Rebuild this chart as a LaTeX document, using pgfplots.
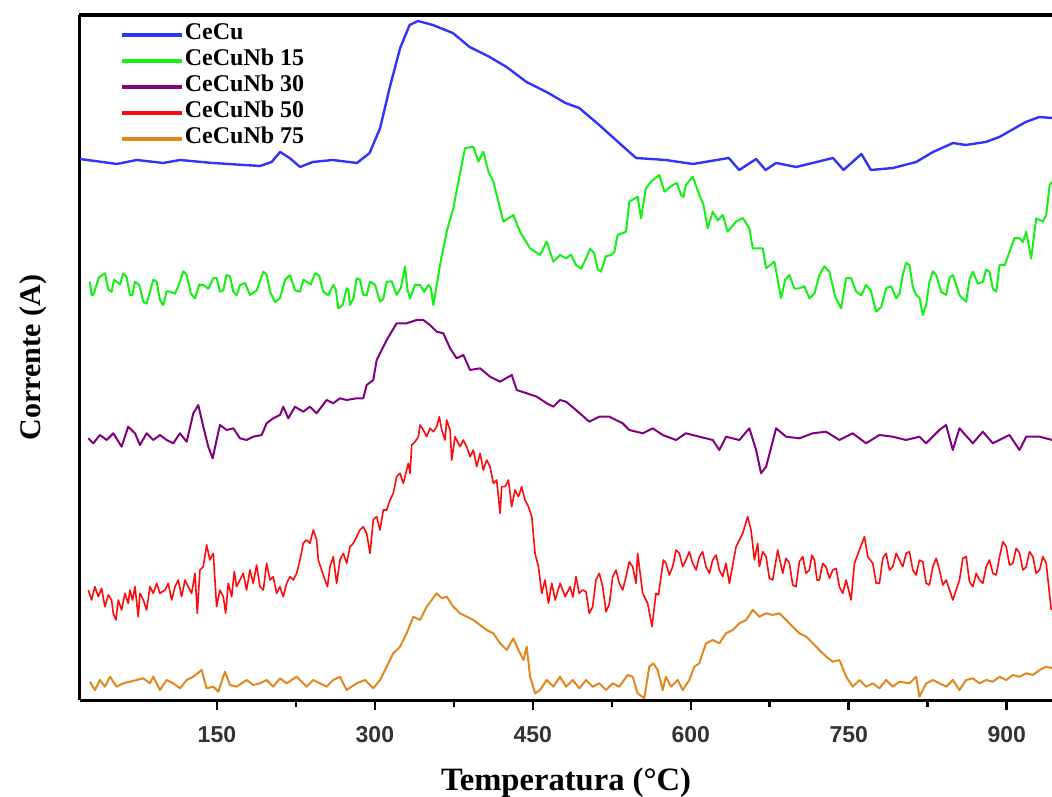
\documentclass[border=0pt]{standalone}
\usepackage{fontspec}
\setmainfont{Liberation Serif}
\setsansfont{Liberation Sans}
\usepackage{pgfplots}
\pgfplotsset{compat=1.18}
\definecolor{cblue}{RGB}{50,50,250}
\definecolor{cgreen}{RGB}{20,240,20}
\definecolor{cpurple}{RGB}{128,0,128}
\definecolor{cred}{RGB}{255,10,10}
\definecolor{corange}{RGB}{225,135,30}
\begin{document}
\begin{tikzpicture}
\begin{axis}[
  scale only axis,
  width=486pt, height=342.5pt,
  xmin=20, xmax=943, ymin=0, ymax=685,
  axis x line*=bottom, axis y line*=left,
  axis line style={line width=1.5pt},
  xtick={150,300,450,600,750,900},
  minor x tick num=1,
  tick align=outside,
  major tick length=5pt, minor tick length=3.5pt,
  every tick/.style={line width=1.3pt, black},
  ytick=\empty,
  /pgf/number format/assume math mode=true,
  xticklabel style={font=\fontsize{11.5}{13}\selectfont\sffamily\bfseries, text=black!80, yshift=-4.5pt},
  xlabel={Temperatura (°C)},
  ylabel={Corrente (A)},
  xlabel style={font=\fontsize{16.3}{18}\selectfont\bfseries, at={(axis description cs:0.5,0)}, anchor=base, yshift=-45pt},
  ylabel style={font=\fontsize{15}{17}\selectfont\bfseries, at={(axis description cs:0,0.5)}, anchor=center, yshift=23.5pt},
  legend style={at={(axis description cs:0.041,0.99)}, anchor=north west, draw=none, fill=none,
    inner sep=0pt, outer sep=0pt, row sep=0pt,
    font=\fontsize{12}{13}\selectfont\bfseries,
    nodes={inner sep=0pt, text height=9pt, text depth=4pt},
    /tikz/every odd column/.append style={column sep=0.5pt}},
  legend cell align=left,
  legend image code/.code={\draw[#1, line width=2pt] (0pt,0pt) -- (30pt,0pt);},
  every axis plot/.append style={line width=1pt, line join=round},
]
\addplot[cblue, line width=1.2pt] table {
20 541
55 536
74 540
99 537
115 540
146 537
191 534
202 538
210 548
219 542
229 533
241 538
260 540
283 537
295 547
305 572
314 612
324 652
333 675
341 679
355 675
374 667
390 653
409 643
425 633
444 618
463 608
481 597
494 592
513 575
532 557
548 542
576 540
602 536
636 542
646 530
662 541
671 530
681 537
700 533
735 542
745 530
762 546
771 530
792 532
814 538
830 548
849 557
861 555
880 558
893 563
918 578
931 583
943 582
};
\addlegendentry{CeCu}
\addplot[cgreen] table {
29.4 418.3
31.0 404.7
32.6 405
38.2 422.9
43.7 426.7
46.9 410.5
50 408.3
52.4 420.3
54.8 418.3
58.0 415.5
61.1 426.7
64.3 422.9
67.4 405
69.8 404.7
72.2 418.3
76.2 415.3
80.1 398.3
83.3 396.3
86.4 408.3
89.6 420.3
92.8 418.3
96.0 399.7
99.1 395
102.3 408.7
105.4 408.3
110.2 406.3
114.9 418.3
118.1 428.7
121.3 425
125.3 406.3
129.2 401.7
133.2 415.3
137.1 415
141.9 411.3
146.6 421.7
149.8 422
152.9 408.3
156.1 409.7
159.2 425
162.4 423.7
165.6 408.3
168.8 404.7
171.9 415
176.7 417
181.4 405
187.8 409.7
194.1 428.3
197.3 425.3
200.4 408.3
205.2 398
209.9 401.7
214.7 420.3
219.4 425
224.2 409.7
228.9 408.3
232.1 420.3
235.2 418.3
239.2 415.5
243.1 426.7
247.1 424.5
251 408.3
255.8 404.7
260.5 415
262.9 410.3
265.3 391.7
269.3 394.7
273.2 411.7
274.8 410.3
276.4 395
279.6 401.3
282.7 421.7
285.9 420.3
289 405
292.2 404.7
295.4 418.3
300.2 415.3
304.9 398.3
308.1 401.3
311.2 418.3
316 418.7
320.7 405
324.7 412.2
328.6 433.3
331 410
333.4 401.7
338.2 415.3
342.9 415
346.9 408
350.8 415
353.2 412
355.5 395
361.9 435
368.2 468.3
374.5 491.7
379.3 518.3
382.4 535
385.6 551.7
393.5 553.3
398.3 538.3
403 548.3
407.8 528.3
412.5 518.3
417.3 498.3
422 478.3
431.5 485
437.8 468.3
447.3 451.7
456.8 445
463.2 458.3
469.5 438.3
475.8 445
481.5 441.7
486.2 445.3
491 435
495.8 431.3
500.5 441.7
504.4 451.2
508.4 446.7
511.6 430.5
514.7 428.3
519.4 443.7
524.2 445
527.4 448
530.5 465
538.5 468.3
541.6 498.3
549.5 503.3
552.7 481.7
557.4 511.7
562.2 518.3
570.1 525
574.9 508.3
582.8 515
586.8 517
590.7 505
593 503
595.4 515
601.8 523.3
608.1 505
612 495.3
616 471.7
620.8 488.3
625.6 479.7
630.3 485
635 468.3
643 478.3
649.3 482
655.6 471.7
658.8 451.7
668.3 451.7
671.5 431.7
679.4 438.3
685.7 401.7
689.6 420.3
693.6 425
698.4 411.3
703.1 411.7
707.9 413.7
712.6 401.7
717.4 406.3
722.1 425
726.9 433.7
731.6 428.3
737.2 403
742.7 391.7
747.5 421.7
752.2 422
757 408.3
761.8 404.7
766.5 415
771.2 408.7
776 388.3
780.8 393
785.5 411.7
790.2 413.7
795 401.7
798.2 406.3
801.3 425
804.4 437
807.6 435
810.8 413
814 405
817.2 402
820.3 385
823.4 394.7
826.6 418.3
829.8 428.7
833 425
837.8 408
842.5 405
845.6 422
848.8 425
855.2 404.7
861.5 398.3
864.6 420.3
867.8 428.3
872.6 416.3
877.3 418.3
880.4 430.3
883.6 428.3
886.8 411.3
890 408.3
893.2 435
898 434.7
902.7 448.3
907.4 462
912.2 461.7
915.4 458
918.5 468.3
923.2 441.7
928 481.7
934.3 478.3
937.5 485
940.7 515
943.2 518.3
};
\addlegendentry{CeCuNb 15}
\addplot[cpurple] table {
27.9 261.7
32.6 256.7
38.9 265
45.3 260
51.6 266.7
59.5 253.3
65.8 273.3
72.2 266.7
76.9 255
83.3 266.7
89.6 260
95.9 265
102.3 260
108.6 256.7
114.9 266.7
121.3 258.3
127.6 286.7
132.3 295
137.1 273.3
141.8 253.3
146 241.7
149.7 260
152.9 275
159.2 270
165.6 271.7
171.9 261.7
178.2 260
184.5 263.3
192.5 265
197.2 276.7
203.5 281.7
209.9 285
213 293.3
217.8 281.7
224.1 293.3
232 288.3
238.3 293.3
244.7 286.7
254.2 300
260.5 296.7
266.8 301.7
273.2 300
282.7 301.7
289 301.7
292.2 315
298.5 320
301.7 340
311.2 360
320.7 376.7
330.2 376.7
339.7 380
346 380
352.3 375
358.7 368.3
365 366.7
371.4 351.7
377.7 341.7
384 345
390.4 330
399.9 331.7
409.4 323.3
418.9 318.3
430 325
434.7 310
444.2 306.7
453.7 303.3
463.2 296.7
469.5 293.3
475.8 300
481.5 298.3
491 290
503.6 278.3
513.1 283.3
522.6 283.3
535.3 276.7
541.6 270
554.3 266.7
563.8 271.7
573.3 265
585.9 260
595.4 266.7
608.1 263.3
620.8 260
627.1 250
633.5 263.3
646.1 260
655.6 271.7
662 250
666.7 226.7
671.5 233.3
681 271.7
690.5 263.3
703.1 261.7
715.8 266.7
728.4 268.3
741.1 260
753.7 266.7
766.4 256.7
779.1 265
791.7 263.3
804.4 260
817.1 263.3
823.4 256.7
836 270
842.4 275
848.8 250
855.1 271.7
867.8 256.7
877.3 268.3
886.8 256.7
902.6 265
912.1 250
918.5 263.3
931.2 263.3
943.2 260
};
\addlegendentry{CeCuNb 30}
\addplot[cred, line width=0.8pt] table {
27.9 110
31.0 100
34.2 113.3
37.4 103.3
40.5 111.7
43.7 93.3
46.9 105
50.0 100
51.6 86.7
54.1 80
56.4 100
59.5 90
62.7 106.7
65.8 96.7
67.4 110
69.9 100
72.2 113.3
75.3 83.3
76.9 106.7
80.1 100
83.3 90
86.4 113.3
89.6 106.7
92.8 116.7
95.9 106.7
100.7 110
103.8 116.7
107.0 100
110.2 113.3
113.3 120
116.5 103.3
119.7 120
122.8 113.3
126.0 106.7
129.2 126.7
131.4 86.7
133.9 130
137.1 133.3
140.2 155
143.4 140
146.6 146.7
149.7 93.3
152.9 110
156.1 103.3
158.3 86.7
160.8 116.7
164.0 103.3
166.5 128.3
168.7 113.3
171.9 120
175.0 126.7
178.2 110
181.4 130
184.5 116.7
187.7 135
190.9 113.3
194.1 110
197.2 136.7
200.4 120
203.5 123.3
206.7 106.7
209.9 113.3
213.0 103.3
216.2 116.7
219.4 123.3
222.5 120
225.7 126.7
228.9 140
232.0 156.7
235.2 160
238.4 156.7
241.5 170
244.7 160
246.3 140
249.4 130
252.6 120
255 113.3
257.4 133.3
260.5 143.3
263.7 116.7
266.9 140
270.0 146.7
273.2 136.7
276.4 153.3
279.5 156.7
282.7 163.3
285.8 170
289.0 173.3
292.2 166.7
295.4 146.7
298.5 180
301.7 183.3
304.9 170
308.0 190
311.2 190
314.4 200
317.5 206.7
320.7 223.3
323.9 226.7
327.0 216.7
331.8 236.7
333.4 226.7
335.0 255
338.1 258.3
341.3 263.3
342.9 275
346.0 270
349.2 263.3
352.3 271.7
355.5 268.3
358.7 273.3
361.2 283.3
363.5 270
366.6 260
368.2 280
371.4 270
373.0 240
376.1 263.3
380.9 253.3
384.0 260
387.2 253.3
390.4 243.3
393.5 250
396.7 233.3
399.9 246.7
403.0 230
406.2 240
409.4 233.3
412.5 216.7
415.7 220
418.9 186.7
420.4 213.3
423.6 213.3
426.8 220
429.9 193.3
433.1 210
436.3 203.3
439.4 213.3
442.6 200
445.8 193.3
449.0 183.3
452.1 146.7
455.3 133.3
458.5 106.7
461.6 120
464.8 96.7
468.0 116.7
471.2 100
475.9 116.7
480.7 103.3
485.4 113.3
488 103
491 123.3
494 106.7
497.3 110
500.5 108.3
503.6 86.7
506.8 93.3
509.9 120
513.1 126.7
516.3 113.3
519.5 88.3
522.6 95.8
525.8 123.3
529 130
532.1 116.7
535.3 110
538.5 123.3
541.6 138.3
544.8 133.3
548 116.7
549.5 146.7
554.3 106.7
559 96.7
563.2 73.3
566.9 106.7
569.3 105
571.7 123.3
574 140
576.4 136.7
579.6 125
582.8 133.3
586 150
589.1 146.7
592.3 133.3
595.4 140
598.6 148.3
601.8 136.7
605 130
608.1 143.3
611.2 148.3
614.4 133.3
617.6 126.7
620.8 140
624 145
627.1 130
630.2 123.3
633.4 136.7
636.6 116.7
643 153.3
649.3 166.7
654 183.3
657.2 170
660.4 140
663.5 156.7
665.1 133.3
668.3 148.3
671.5 143.3
674.6 121.7
677.8 120
682.5 150
687.3 126.7
690.4 141.7
693.6 136.7
696.8 115
699.9 113.3
703.1 138.3
706.3 143.3
709.4 126.7
712.6 130
715 145
717.4 140
719.8 120
722.1 120
725.2 136.7
728.4 133.3
731.6 121.7
734.8 130
738 131.7
741.1 113.3
744.3 106.7
747.5 120
752.2 100
755.4 136.7
760.1 150
764.9 163.3
768 143.3
772.8 136.7
776 116.7
779.1 116.7
782.3 141.7
785.5 146.7
788.6 130
791.8 133.3
795 146.7
798.1 140
801.3 133.3
804.5 146.7
807.6 148.3
810.8 130
814 125
817.1 140
820.3 138.3
823.5 116.7
826.6 115
829.8 133.3
833 141.7
836.1 130
839.3 115
842.5 120
848.8 100
855.1 120
858.3 141.7
861.5 143.3
864.6 118.3
867.8 113.3
871 126.7
874.1 120
877.3 116.7
880.5 133.3
883.6 140
886.8 126.7
890 125
893.2 143.3
896.3 158.3
899.5 153.3
902.6 135
905.8 136.7
909 151.7
912.2 146.7
915.3 130
918.5 133.3
921.6 148.3
924.8 143.3
928 126.7
931.2 130
934.3 143.3
937.5 136.7
942.2 90
};
\addlegendentry{CeCuNb 50}
\addplot[corange] table {
29.4 18.3
34.2 10
38.9 20
43.7 13.3
48.5 23.3
54.8 13.3
61.1 16.7
67.4 18.3
73.8 20
80.1 21.7
86.4 16.7
89.6 23.3
95.9 10
102.3 20
108.6 16.7
114.9 11.7
121.3 20
127.6 23.3
135.5 30
140.2 11.7
146.6 13.3
151.3 8.3
157.6 28.3
162.4 15
168.7 13.3
178.2 20
184.5 15
190.9 16.7
197.2 20
203.5 13.3
209.9 21.7
216.2 16.7
225.7 23.3
235.2 13.3
241.5 20
247.9 16.7
254.2 13.3
260.5 20
266.8 23.3
273.2 10
282.7 16.7
290.6 20
298.5 11.7
304.9 20
311.2 33.3
317.5 46.7
323.9 53.3
330.2 66.7
336.5 83.3
342.9 80
349.2 93.3
354 100
358.7 106.7
363.5 101.7
368.2 103.3
374.5 93.3
380.9 86.7
387.2 83.3
393.5 80
399.9 75
406.2 70
412.5 66.7
418.9 56.7
425.2 50
431.5 61.7
436.3 50
441.1 40
444.2 53.3
447.4 23.3
452.1 6.7
456.9 10
463.2 20
469.5 13.3
475.8 23.3
481.5 13.3
487.8 20
494.2 11.7
500.5 20
506.8 13.3
513.1 16.7
519.5 10
525.8 16.7
532.1 13.3
540 25
544.8 23.3
549.5 6.7
555.8 1.7
560.6 33.3
564.4 36.7
568.5 30
573.3 10
576.4 23.3
581.2 13.3
587.5 20
592.3 10
598.6 20
603.3 33.3
608.1 36.7
614.4 56.7
620.8 60
627.1 56.7
633.4 66.7
639.8 70
646.1 76.7
652.5 80
658.8 90
665.1 83.3
671.5 86.7
677.8 85
684.1 86.7
690.5 80
696.8 73.3
703.1 66.7
709.5 63.3
715.8 56.7
722.1 50
728.5 43.3
734.8 38.3
741.1 40
747.5 23.3
753.8 13.3
760.1 20
766.5 13.3
772.8 16.7
779.1 11.7
785.5 20
791.8 13.3
798.1 18.3
807.6 16.7
814 23.3
817.1 3.3
823.5 16.7
829.8 20
836.1 16.7
842.5 13.3
848.8 20
855.1 10
861.5 20
867.8 21.7
874.1 16.7
880.5 20
886.8 18.3
893.2 23.3
899.5 20
905.8 25
912.2 23.3
918.5 26.7
924.8 25
931.2 30
937.5 33.3
943.2 31.7
};
\addlegendentry{CeCuNb 75}
\coordinate (SW) at (rel axis cs:0,0);
\end{axis}
\pgfresetboundingbox
\path ([xshift=-40pt,yshift=-48pt]SW) rectangle ([xshift=486pt,yshift=350pt]SW);
\fill[black] ([xshift=-0.75pt,yshift=341.5pt]SW) rectangle ([xshift=486pt,yshift=343.5pt]SW);
\end{tikzpicture}
\end{document}
